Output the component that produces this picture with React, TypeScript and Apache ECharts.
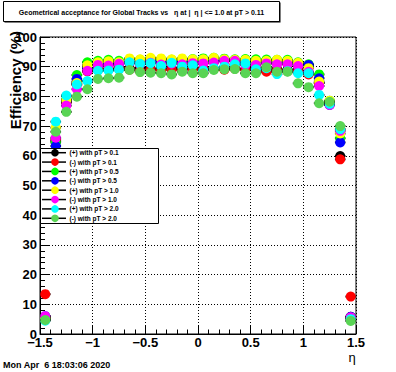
import React, { useEffect, useRef } from "react";
import * as echarts from "echarts";

const BIN_CENTERS = [
  -1.45, -1.35, -1.25, -1.15, -1.05, -0.95, -0.85, -0.75, -0.65, -0.55,
  -0.45, -0.35, -0.25, -0.15, -0.05, 0.05, 0.15, 0.25, 0.35, 0.45,
  0.55, 0.65, 0.75, 0.85, 0.95, 1.05, 1.15, 1.25, 1.35, 1.45,
];

const SERIES_NAMES = [
  "(+) with pT > 0.1",
  "(-) with pT > 0.1",
  "(+) with pT > 0.5",
  "(-) with pT > 0.5",
  "(+) with pT > 1.0",
  "(-) with pT > 1.0",
  "(+) with pT > 2.0",
  "(-) with pT > 2.0",
];

const SERIES_COLORS = ["#000000", "#ff0000", "#00ff00", "#0000ff", "#ffff00", "#ff00ff", "#00ffff", "#59d454"];

const POS_PT01 = [5.5, 65, 78, 85, 88.5, 89, 89.3, 89.5, 89.5, 89.5, 89.3, 89.5, 89.5, 89.3, 89.5, 89.5, 89.3, 89.5, 89.5, 89.2, 89.3, 89, 89.2, 89, 89, 87.8, 84.5, 77.8, 59.9, 5.8];
const NEG_PT01 = [13.4, 65.5, 78, 84, 88.5, 89, 89.2, 89.2, 89, 88.5, 89, 88.8, 89, 89.2, 89, 89.2, 89.2, 89, 89.3, 89, 88.8, 88.3, 88.8, 88.5, 88.5, 87.4, 84.5, 77.5, 58.8, 12.6];
const POS_PT05 = [5, 64.5, 79, 87.2, 91.5, 92, 92.3, 92, 92.5, 92.3, 92.5, 92.5, 92.3, 92.5, 92.6, 92.8, 93, 92.7, 92.5, 92.6, 92.5, 92.4, 92.3, 92.3, 91.5, 90.8, 87.4, 78.5, 65.9, 5.5];
const NEG_PT05 = [6, 63.3, 78.5, 85.9, 89.5, 90.5, 91, 91, 91.5, 91.5, 91.8, 91.5, 91.5, 91.7, 91.8, 92, 92, 92, 91.8, 91.5, 91.7, 91.5, 91.8, 91.5, 91.2, 90.6, 86.1, 77.1, 64.5, 5.8];
const POS_PT10 = [5.5, 69.5, 78.8, 84.5, 90.5, 91.5, 91.8, 91.5, 92.8, 92.5, 93, 92.8, 92.5, 92.8, 92.5, 92.5, 93, 92.5, 92.3, 92.3, 92, 92, 92.3, 92, 91.3, 89.5, 85, 78.5, 67.5, 5.5];
const NEG_PT10 = [6, 66.1, 76.9, 82.4, 88.6, 90.6, 90.4, 91, 91.3, 90.8, 91.3, 90.7, 91, 90.8, 91.2, 91.1, 91.4, 92, 92, 90.6, 90.6, 91.1, 90.8, 90.8, 90.2, 88.3, 83.5, 77.1, 68.4, 5.6];
const POS_PT20 = [4.5, 71.5, 80.3, 84, 85.2, 88.6, 88.7, 89, 91.5, 91, 91.2, 90.2, 91.3, 90, 90.5, 88.7, 89.5, 90, 90.8, 91.1, 89.1, 89.5, 87.5, 88.5, 87.8, 87.8, 80.5, 77.5, 69, 5];
const NEG_PT20 = [4.7, 68.1, 74.8, 79.9, 82.4, 85.9, 86.1, 86.3, 88.9, 88.2, 88, 87.8, 87.4, 88.3, 87.8, 87.8, 88.9, 89.1, 89.2, 87.8, 87.8, 89.8, 88.3, 88.3, 84.4, 83.1, 77.7, 78.2, 70, 4.4];

const SERIES_VALUES = [POS_PT01, NEG_PT01, POS_PT05, NEG_PT05, POS_PT10, NEG_PT10, POS_PT20, NEG_PT20];

const X_TICKS = [-1.5, -1, -0.5, 0, 0.5, 1, 1.5];
const Y_TICKS = [0, 10, 20, 30, 40, 50, 60, 70, 80, 90, 100];

const TITLE = "Geometrical acceptance for Global Tracks vs   η at |  η | <= 1.0 at pT > 0.11";
const Y_TITLE = "Efficiency (%)";
const X_TITLE = "η";
const DATE_TEXT = "Mon Apr  6 18:03:06 2020";

const HALF_BIN = 0.05;
const ERR = 1.0;
const FONT = "'Liberation Sans', Arial, Helvetica, sans-serif";

export default function App() {
  const ref = useRef<HTMLDivElement>(null);
  useEffect(() => {
    if (!ref.current) return;
    const chart = echarts.init(ref.current, null, { renderer: "svg" });

    const series = SERIES_VALUES.map((vals, si) => ({
      type: "custom",
      name: SERIES_NAMES[si],
      data: vals.map((v, i) => [BIN_CENTERS[i], v]),
      encode: { x: 0, y: 1 },
      renderItem: (params: any, api: any) => {
        const x = api.value(0);
        const y = api.value(1);
        const c = api.coord([x, y]);
        const l = api.coord([x - HALF_BIN, y]);
        const r = api.coord([x + HALF_BIN, y]);
        const up = api.coord([x, y + ERR]);
        const dn = api.coord([x, y - ERR]);
        return {
          type: "group",
          children: [
            { type: "line", shape: { x1: l[0], y1: c[1], x2: r[0], y2: c[1] }, style: { stroke: "#000", lineWidth: 2 } },
            { type: "line", shape: { x1: c[0], y1: up[1], x2: c[0], y2: dn[1] }, style: { stroke: "#000", lineWidth: 1 } },
            { type: "circle", shape: { cx: c[0], cy: c[1], r: 5 }, style: { fill: SERIES_COLORS[si] } },
          ],
        };
      },
    }));

    const legendTop = 148;
    const legendRowH = 9.37;
    const legendEls: any[] = [
      { type: "rect", z: 100, shape: { x: 40.5, y: legendTop + 0.5, width: 118, height: 75 }, style: { fill: "#fff", stroke: "#000", lineWidth: 1 } },
    ];
    SERIES_NAMES.forEach((name, i) => {
      const cy = legendTop + 4.7 + i * legendRowH;
      legendEls.push({ type: "line", z: 101, shape: { x1: 42, y1: cy, x2: 66, y2: cy }, style: { stroke: "#000", lineWidth: 1.5 } });
      legendEls.push({ type: "circle", z: 102, shape: { cx: 55, cy, r: 3.8 }, style: { fill: SERIES_COLORS[i] } });
      legendEls.push({
        type: "text", z: 102, x: 69.5, y: cy,
        style: { text: name, font: `bold 6.5px ${FONT}`, fill: "#000", verticalAlign: "middle", align: "left" },
      });
    });

    const option: any = {
      animation: false,
      grid: { left: 40, top: 37, width: 316, height: 297, show: true, borderColor: "#000", borderWidth: 1, backgroundColor: "transparent" },
      xAxis: {
        type: "value",
        min: X_TICKS[0],
        max: X_TICKS[X_TICKS.length - 1],
        interval: 0.5,
        axisLine: { show: true, onZero: false, lineStyle: { color: "#000", width: 1 } },
        axisTick: { show: true, inside: true, length: 9, lineStyle: { color: "#000" } },
        minorTick: { show: true, splitNumber: 5, length: 4.5, lineStyle: { color: "#000" } },
        splitLine: { show: true, lineStyle: { color: "#000", type: [1, 2], width: 1 } },
        axisLabel: {
          margin: 2,
          color: "#000",
          fontFamily: FONT,
          fontWeight: "bold",
          fontSize: 13,
          formatter: (v: number) => String(v).replace("-", "\u2212"),
        },
      },
      yAxis: {
        type: "value",
        min: Y_TICKS[0],
        max: Y_TICKS[Y_TICKS.length - 1],
        interval: 10,
        axisLine: { show: true, onZero: false, lineStyle: { color: "#000", width: 1 } },
        axisTick: { show: true, inside: true, length: 9, lineStyle: { color: "#000" } },
        minorTick: { show: true, splitNumber: 5, length: 5, lineStyle: { color: "#000" } },
        splitLine: { show: true, lineStyle: { color: "#000", type: [1, 2], width: 1 } },
        axisLabel: { margin: 3, color: "#000", fontFamily: FONT, fontWeight: "bold", fontSize: 13 },
      },
      series,
      graphic: [
        { type: "rect", z: 100, shape: { x: 4.5, y: 2.5, width: 276, height: 20 }, style: { fill: "#000" } },
        { type: "rect", z: 101, shape: { x: 3.5, y: 1.5, width: 276, height: 20 }, style: { fill: "#fff", stroke: "#000", lineWidth: 1 } },
        {
          type: "text", z: 102, x: 141.5, y: 12,
          style: { text: TITLE, font: `bold 7px ${FONT}`, fill: "#000", align: "center", verticalAlign: "middle" },
        },
        {
          type: "text", z: 102, x: 15, y: 31, rotation: Math.PI / 2,
          style: { text: Y_TITLE, font: `bold 15px ${FONT}`, fill: "#000", align: "right", verticalAlign: "middle" },
        },
        {
          type: "text", z: 102, x: 352, y: 357,
          style: { text: X_TITLE, font: `13px ${FONT}`, fill: "#000", align: "center", verticalAlign: "middle" },
        },
        {
          type: "text", z: 102, x: 3, y: 364.5,
          style: { text: DATE_TEXT, font: `bold 9px ${FONT}`, fill: "#000", align: "left", verticalAlign: "middle" },
        },
        ...legendEls,
      ],
    };
    chart.setOption(option);
    return () => chart.dispose();
  }, []);

  return <div ref={ref} style={{ position: "absolute", left: 0, top: 0, width: 396, height: 372, background: "#fff" }} />;
}
